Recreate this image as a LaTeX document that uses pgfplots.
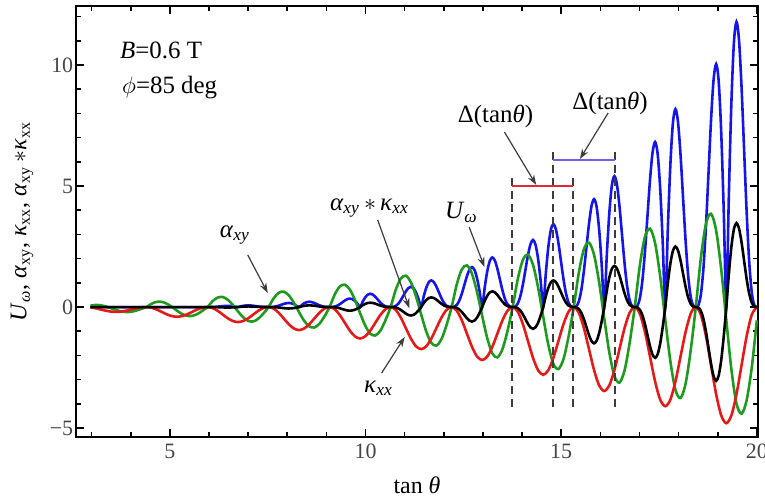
\documentclass[border=0pt]{standalone}
\usepackage{fontspec}
\setmainfont{Liberation Serif}
\usepackage{pgfplots}
\usepackage{pgfplotstable}
\pgfplotsset{compat=1.18}
\usetikzlibrary{arrows.meta}

\definecolor{cblue}{RGB}{20,20,235}
\definecolor{cgreen}{RGB}{30,155,30}
\definecolor{cred}{RGB}{230,25,25}
\definecolor{cbrk}{RGB}{225,40,60}
\definecolor{cbrkb}{RGB}{110,95,230}
\definecolor{tickgray}{RGB}{70,70,70}
\definecolor{arrgray}{RGB}{60,60,60}

% kappa_xx (red) and alpha_xy (green)
\pgfplotstableread{
x red green
2.97 -0.013 0.059
3.10 -0.05 0.086
3.23 -0.1 0.074
3.36 -0.15 0.026
3.49 -0.187 -0.045
3.62 -0.2 -0.12
3.75 -0.187 -0.179
3.88 -0.15 -0.206
4.01 -0.1 -0.194
4.14 -0.05 -0.146
4.27 -0.013 -0.075
4.40 0 0
4.53 -0.027 0.135
4.66 -0.1 0.214
4.79 -0.2 0.215
4.92 -0.3 0.139
5.05 -0.373 0.005
5.18 -0.4 -0.15
5.31 -0.373 -0.285
5.44 -0.3 -0.364
5.57 -0.2 -0.365
5.70 -0.1 -0.289
5.83 -0.027 -0.155
5.96 0 0
6.09 -0.042 0.241
6.22 -0.155 0.392
6.35 -0.31 0.415
6.48 -0.465 0.302
6.61 -0.578 0.085
6.74 -0.62 -0.18
6.87 -0.578 -0.42
7.00 -0.465 -0.572
7.13 -0.31 -0.595
7.26 -0.155 -0.482
7.39 -0.042 -0.265
7.52 0 0
7.65 -0.064 0.356
7.78 -0.2375 0.588
7.91 -0.475 0.635
8.04 -0.7125 0.483
8.17 -0.886 0.174
8.30 -0.95 -0.21
8.43 -0.886 -0.566
8.56 -0.7125 -0.798
8.69 -0.475 -0.845
8.82 -0.2375 -0.693
8.95 -0.064 -0.384
9.08 0 0
9.21 -0.087 0.508
9.34 -0.325 0.847
9.47 -0.65 0.925
9.60 -0.975 0.722
9.73 -1.213 0.292
9.86 -1.3 -0.25
9.99 -1.213 -0.758
10.12 -0.975 -1.097
10.25 -0.65 -1.175
10.38 -0.325 -0.972
10.51 -0.087 -0.542
10.64 0 0
10.77 -0.117 0.702
10.90 -0.435 1.176
11.03 -0.87 1.295
11.16 -1.305 1.026
11.29 -1.623 0.443
11.42 -1.74 -0.3
11.55 -1.623 -1.003
11.68 -1.305 -1.476
11.81 -0.87 -1.595
11.94 -0.435 -1.326
12.07 -0.117 -0.743
12.20 0 0
12.33 -0.147 0.926
12.46 -0.5475 1.555
12.59 -1.095 1.72
12.72 -1.6425 1.375
12.85 -2.043 0.614
12.98 -2.19 -0.36
13.11 -2.043 -1.286
13.24 -1.6425 -1.915
13.37 -1.095 -2.08
13.50 -0.5475 -1.735
13.63 -0.147 -0.974
13.76 0 0
13.89 -0.188 1.153
14.02 -0.7 1.944
14.15 -1.4 2.16
14.28 -2.1 1.744
14.41 -2.612 0.807
14.54 -2.8 -0.4
14.67 -2.612 -1.553
14.80 -2.1 -2.344
14.93 -1.4 -2.56
15.06 -0.7 -2.144
15.19 -0.188 -1.207
15.32 0 0
15.45 -0.232 1.414
15.58 -0.8675 2.388
15.71 -1.735 2.66
15.84 -2.6025 2.158
15.97 -3.238 1.016
16.10 -3.47 -0.46
16.23 -3.238 -1.874
16.36 -2.6025 -2.848
16.49 -1.735 -3.12
16.62 -0.8675 -2.618
16.75 -0.232 -1.476
16.88 0 0
17.01 -0.275 1.715
17.14 -1.025 2.901
17.27 -2.05 3.24
17.40 -3.075 2.641
17.53 -3.825 1.265
17.66 -4.1 -0.52
17.79 -3.825 -2.235
17.92 -3.075 -3.421
18.05 -2.05 -3.76
18.18 -1.025 -3.161
18.31 -0.275 -1.785
18.44 0 0
18.57 -0.322 2.028
18.70 -1.2 3.439
18.83 -2.4 3.855
18.96 -3.6 3.164
19.09 -4.478 1.552
19.22 -4.8 -0.55
19.35 -4.478 -2.578
19.48 -3.6 -3.99
19.61 -2.4 -4.405
19.74 -1.2 -3.85
19.87 -0.322 -2.5
20.00 0 -0.55
}\tabA

% alpha_xy*kappa_xx (black) and U_omega (blue)
\pgfplotstableread{
x black blue
2.97 0 0
4.40 0 0
5.96 0 0
6.09 0 0.003
6.22 -0.007 0.017
6.35 -0.015 0.039
6.48 -0.02 0.05
6.61 -0.014 0.036
6.74 0 0
6.87 0.018 0.05
7.00 0.025 0.07
7.13 0.019 0.054
7.26 0.008 0.023
7.39 0.001 0.004
7.52 0 0
7.65 -0.003 0.009
7.78 -0.02 0.057
7.91 -0.046 0.131
8.04 -0.06 0.17
8.17 -0.043 0.122
8.30 0 0
8.43 0.05 0.158
8.56 0.07 0.22
8.69 0.054 0.169
8.82 0.023 0.073
8.95 0.004 0.011
9.080 0 0
9.145 -0.001 0.002
9.210 -0.008 0.018
9.275 -0.024 0.056
9.340 -0.05 0.117
9.405 -0.083 0.193
9.470 -0.116 0.27
9.535 -0.14 0.328
9.600 -0.15 0.35
9.665 -0.139 0.325
9.730 -0.108 0.251
9.795 -0.059 0.137
9.860 0 0
9.925 0.071 0.216
9.990 0.129 0.395
10.055 0.167 0.511
10.120 0.18 0.55
10.185 0.168 0.515
10.250 0.139 0.424
10.315 0.099 0.303
10.380 0.06 0.183
10.445 0.029 0.087
10.510 0.009 0.029
10.575 0.001 0.004
10.640 0 0
10.705 -0.002 0.006
10.770 -0.018 0.044
10.835 -0.056 0.134
10.900 -0.117 0.28
10.965 -0.193 0.463
11.030 -0.27 0.647
11.095 -0.328 0.786
11.160 -0.35 0.84
11.225 -0.325 0.78
11.290 -0.251 0.603
11.355 -0.137 0.329
11.420 0 0
11.485 0.157 0.431
11.550 0.287 0.79
11.615 0.372 1.022
11.680 0.4 1.1
11.745 0.374 1.03
11.810 0.308 0.847
11.875 0.22 0.606
11.940 0.133 0.366
12.005 0.064 0.175
12.070 0.021 0.057
12.135 0.003 0.008
12.200 0 0
12.265 -0.004 0.012
12.330 -0.031 0.086
12.395 -0.095 0.262
12.460 -0.2 0.549
12.525 -0.331 0.909
12.590 -0.462 1.271
12.655 -0.562 1.544
12.720 -0.6 1.65
12.785 -0.557 1.533
12.850 -0.431 1.185
12.915 -0.235 0.647
12.980 0 0
13.045 0.255 0.804
13.110 0.467 1.472
13.175 0.604 1.904
13.240 0.65 2.05
13.305 0.608 1.919
13.370 0.501 1.579
13.435 0.358 1.13
13.500 0.216 0.683
13.565 0.103 0.326
13.630 0.034 0.107
13.695 0.005 0.014
13.760 0 0
13.825 -0.006 0.019
13.890 -0.047 0.144
13.955 -0.143 0.44
14.020 -0.3 0.922
14.085 -0.496 1.526
14.150 -0.693 2.133
14.215 -0.842 2.593
14.280 -0.9 2.77
14.345 -0.836 2.573
14.410 -0.646 1.989
14.475 -0.353 1.086
14.540 0 0
14.605 0.431 1.345
14.670 0.79 2.463
14.735 1.022 3.186
14.800 1.1 3.43
14.865 1.03 3.21
14.930 0.847 2.641
14.995 0.606 1.89
15.060 0.366 1.142
15.125 0.175 0.545
15.190 0.057 0.178
15.255 0.008 0.024
15.320 0 0
15.385 -0.011 0.031
15.450 -0.078 0.232
15.515 -0.239 0.709
15.580 -0.5 1.485
15.645 -0.827 2.457
15.710 -1.155 3.434
15.775 -1.404 4.175
15.840 -1.5 4.46
15.905 -1.394 4.143
15.970 -1.077 3.202
16.035 -0.588 1.748
16.100 0 0
16.165 0.666 2.121
16.230 1.221 3.884
16.295 1.579 5.026
16.360 1.7 5.41
16.425 1.591 5.064
16.490 1.309 4.166
16.555 0.937 2.981
16.620 0.566 1.802
16.685 0.27 0.86
16.750 0.088 0.281
16.815 0.012 0.038
16.880 0 0
16.945 -0.015 0.048
17.010 -0.109 0.355
17.075 -0.334 1.084
17.140 -0.699 2.271
17.205 -1.157 3.758
17.270 -1.617 5.251
17.335 -1.966 6.384
17.400 -2.1 6.82
17.465 -1.951 6.336
17.530 -1.508 4.897
17.595 -0.823 2.673
17.660 0 0
17.725 0.98 3.207
17.790 1.795 5.873
17.855 2.323 7.599
17.920 2.5 8.18
17.985 2.34 7.656
18.050 1.925 6.299
18.115 1.378 4.507
18.180 0.833 2.724
18.245 0.398 1.301
18.310 0.13 0.425
18.375 0.018 0.057
18.440 0 0
18.505 -0.021 0.07
18.570 -0.159 0.522
18.635 -0.485 1.596
18.700 -1.016 3.343
18.765 -1.681 5.532
18.830 -2.349 7.731
18.895 -2.855 9.397
18.960 -3.05 10.04
19.025 -2.833 9.327
19.090 -2.19 7.209
19.155 -1.196 3.936
19.220 0 0
19.285 1.36 4.618
19.350 2.491 8.458
19.415 3.224 10.944
19.480 3.47 11.78
19.545 3.248 11.026
19.610 2.672 9.071
19.675 1.912 6.491
19.740 1.156 3.923
19.805 0.552 1.873
19.870 0.18 0.613
19.935 0.024 0.082
20.000 0 0
}\tabB

\newcommand{\sub}[1]{\textsubscript{#1}}

\begin{document}
\begin{tikzpicture}
\useasboundingbox (-38bp,-30bp) rectangle (344.5bp,218.5bp);
\begin{axis}[
  scale only axis,
  width=341bp, height=215.5bp,
  xmin=2.6, xmax=20.03, ymin=-5.37, ymax=12.44,
  axis line style={line width=1.2pt},
  tick align=inside,
  xtick={5,10,15,20}, xticklabels={5,10,15,20},
  minor xtick={3,4,6,7,8,9,11,12,13,14,16,17,18,19},
  ytick={-5,0,5,10}, yticklabels={−5,0,5,10},
  minor ytick={-4,-3,-2,-1,1,2,3,4,6,7,8,9,11,12},
  major tick length=4bp, minor tick length=2.3bp,
  every tick/.style={black, line width=0.8pt},
  tick label style={text=tickgray, font=\fontsize{11}{13}\selectfont},
  yticklabel style={inner xsep=1.2bp},
  xlabel={tan \textit{θ}},
  xlabel style={at={(axis description cs:0.5,-0.111)}, anchor=center, font=\fontsize{12}{14}\selectfont},
  ylabel={\textit{U}\sub{\textit{ω}}, \textit{α}\sub{xy}, \textit{κ}\sub{xx}, \textit{α}\sub{xy}\,$\ast$\textit{κ}\sub{xx}},
  ylabel style={at={(axis description cs:-0.0792,0.5)}, anchor=center, font=\fontsize{12}{14}\selectfont},
]
\addplot[cblue, line width=1.3pt, smooth, tension=0.5] table[x=x, y=blue] {\tabB};
\addplot[cgreen, line width=1.3pt, smooth, tension=0.5] table[x=x, y=green] {\tabA};
\addplot[cred, line width=1.3pt, smooth, tension=0.5] table[x=x, y=red] {\tabA};
\addplot[black, line width=1.3pt, smooth, tension=0.5] table[x=x, y=black] {\tabB};

% dashed guide lines and brackets
\draw[arrgray, line width=0.8pt, dash pattern=on 4bp off 2.5bp] (13.74,-4.12) -- (13.74,5.4);
\draw[arrgray, line width=0.8pt, dash pattern=on 4bp off 2.5bp] (15.30,-4.12) -- (15.30,5.4);
\draw[arrgray, line width=0.8pt, dash pattern=on 4bp off 2.5bp] (14.79,-4.12) -- (14.79,6.55);
\draw[arrgray, line width=0.8pt, dash pattern=on 4bp off 2.5bp] (16.37,-4.12) -- (16.37,6.55);
\draw[cbrk, line width=0.8pt] (13.74,5.0) -- (15.30,5.0);
\draw[cbrkb, line width=0.8pt] (14.79,6.07) -- (16.37,6.07);

% labels
\node[anchor=west, font=\fontsize{12.5}{14}\selectfont] at (3.55,10.6) {\textit{B}=0.6 T};
\node[anchor=west, font=\fontsize{12.5}{14}\selectfont] at (3.6,9.05) {$\phi$=85 deg};

\node[font=\fontsize{12.5}{14}\selectfont] at (6.66,2.98) {\textit{α}\sub{\textit{xy}}};
\draw[arrgray, line width=0.6pt, -{Stealth[length=5bp,width=3.5bp]}] (6.99,2.15) -- (7.5,0.58);

\node[font=\fontsize{12.5}{14}\selectfont] at (10.1,4.09) {\textit{α}\sub{\textit{xy}}\,$\ast$\,\textit{κ}\sub{\textit{xx}}};
\draw[arrgray, line width=0.6pt, -{Stealth[length=5bp,width=3.5bp]}] (10.31,3.6) -- (11.12,-0.05);

\node[font=\fontsize{12.5}{14}\selectfont] at (12.45,3.9) {\textit{U}\sub{\textit{ω}}};
\draw[arrgray, line width=0.6pt, -{Stealth[length=5bp,width=3.5bp]}] (12.65,3.3) -- (13.04,1.65);

\node[font=\fontsize{12.5}{14}\selectfont] at (10.33,-3.35) {\textit{κ}\sub{\textit{xx}}};
\draw[arrgray, line width=0.6pt, -{Stealth[length=5bp,width=3.5bp]}] (10.41,-2.73) -- (11.0,-1.24);

\node[font=\fontsize{12.5}{14}\selectfont] at (13.32,7.89) {Δ(tan\textit{θ})};
\draw[arrgray, line width=0.6pt, -{Stealth[length=5bp,width=3.5bp]}] (13.55,7.23) -- (14.36,5.05);

\node[font=\fontsize{12.5}{14}\selectfont] at (16.25,8.43) {Δ(tan\textit{θ})};
\draw[arrgray, line width=0.6pt, -{Stealth[length=5bp,width=3.5bp]}] (16.2,8.02) -- (15.48,6.12);
\end{axis}
\end{tikzpicture}
\end{document}
